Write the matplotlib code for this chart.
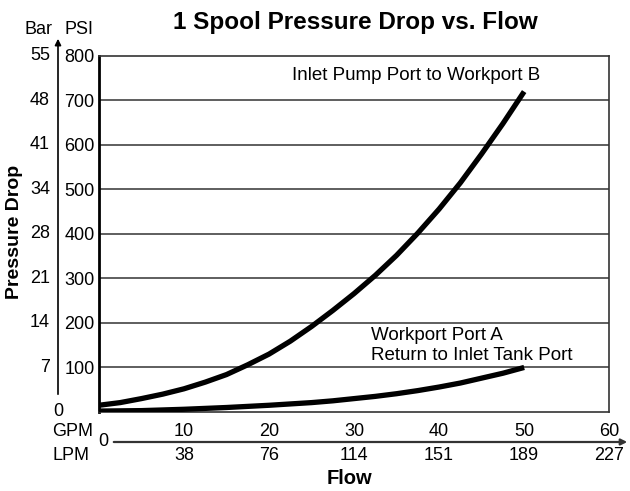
import numpy as np
import matplotlib as mpl
import matplotlib.pyplot as plt
from matplotlib.transforms import blended_transform_factory

mpl.rcParams['font.family'] = ['Liberation Sans', 'DejaVu Sans']

# flow (GPM) and pressure drop (PSI)
gpm = [0, 2.5, 5, 7.5, 10, 12.5, 15, 17.5, 20, 22.5, 25,
       27.5, 30, 32.5, 35, 37.5, 40, 42.5, 45, 47.5, 50]
psi_pump_b = [15, 21, 30, 40, 52, 67, 84, 106, 130, 159, 192,
              228, 266, 307, 352, 402, 456, 515, 580, 648, 720]
psi_a_tank = [2, 2.5, 3, 4.5, 6, 8, 10, 12.5, 15, 18, 21,
              25, 30, 35, 41, 48, 56, 65, 76, 87, 100]

gpm_ticks = [10, 20, 30, 40, 50, 60]
lpm_ticks = ['38', '76', '114', '151', '189', '227']
psi_ticks = [100, 200, 300, 400, 500, 600, 700, 800]
bar_ticks = ['7', '14', '21', '28', '34', '41', '48', '55']

fig = plt.figure(figsize=(6.3, 4.91), dpi=100, facecolor='w')
ax = fig.add_axes([0.157, 0.161, 0.810, 0.725])
ax.set_xlim(0, 60)
ax.set_ylim(0, 800)

for p in psi_ticks[:-1]:
    ax.axhline(p, color='#333333', lw=1.1, zorder=1)

ax.plot(gpm, psi_pump_b, color='k', lw=3.8, solid_capstyle='butt',
        solid_joinstyle='round', zorder=3)
ax.plot(gpm, psi_a_tank, color='k', lw=3.8, solid_capstyle='butt',
        solid_joinstyle='round', zorder=3)

for s in ['top', 'right', 'bottom']:
    ax.spines[s].set_color('#333333')
    ax.spines[s].set_linewidth(1.2)
ax.spines['left'].set_linewidth(2.0)

fs = 13
ax.set_xticks([])
ax.set_yticks(psi_ticks)
ax.set_yticklabels([str(p) for p in psi_ticks], fontsize=fs)
ax.tick_params(axis='y', length=0, pad=3)

ty = blended_transform_factory(fig.transFigure, ax.transData)
for p, b in zip(psi_ticks, bar_ticks):
    ax.text(50 / 630, p, b, transform=ty, ha='right', va='center', fontsize=fs)
ax.text(58 / 630, 0, '0', transform=ty, ha='center', va='center', fontsize=fs)

tx = blended_transform_factory(ax.transData, fig.transFigure)
y_gpm = 1 - 432 / 491
y_lpm = 1 - 455 / 491
for g, l in zip(gpm_ticks, lpm_ticks):
    ax.text(g, y_gpm, str(g), transform=tx, ha='center', va='center', fontsize=fs)
    ax.text(g, y_lpm, l, transform=tx, ha='center', va='center', fontsize=fs)

# axis arrows
fig.add_artist(mpl.patches.FancyArrowPatch(
    (58 / 630, 1 - 397 / 491), (58 / 630, 1 - 36 / 491), transform=fig.transFigure,
    arrowstyle='-|>', mutation_scale=9, lw=1.2, color='k'))
fig.add_artist(mpl.patches.FancyArrowPatch(
    (111 / 630, 1 - 442 / 491), (630 / 630, 1 - 442 / 491), transform=fig.transFigure,
    arrowstyle='-|>', mutation_scale=9, lw=1.6, color='#333333'))

fig.text(103 / 630, 1 - 442 / 491, '0', ha='center', va='center', fontsize=fs)
fig.text(52 / 630, y_gpm, 'GPM', ha='left', va='center', fontsize=fs)
fig.text(52 / 630, y_lpm, 'LPM', ha='left', va='center', fontsize=fs)
fig.text(39 / 630, 1 - 29 / 491, 'Bar', ha='center', va='center', fontsize=fs)
fig.text(79 / 630, 1 - 29 / 491, 'PSI', ha='center', va='center', fontsize=fs)
fig.text(349 / 630, 1 - 478 / 491, 'Flow', ha='center', va='center', fontsize=14.5,
         fontweight='bold')
fig.text(15 / 630, 1 - 232 / 491, 'Pressure Drop', ha='center', va='center', rotation=90,
         fontsize=14, fontweight='bold')
fig.text(355 / 630, 1 - 22 / 491, '1 Spool Pressure Drop vs. Flow', ha='center', va='center',
         fontsize=17.5, fontweight='bold')

ax.text(22.7, 755, 'Inlet Pump Port to Workport B', ha='left', va='center', fontsize=13.5)
ax.text(32.0, 171, 'Workport Port A', ha='left', va='center', fontsize=13.5)
ax.text(32.0, 126, 'Return to Inlet Tank Port', ha='left', va='center', fontsize=13.5)

plt.savefig('out.png', dpi=100, facecolor='w')
